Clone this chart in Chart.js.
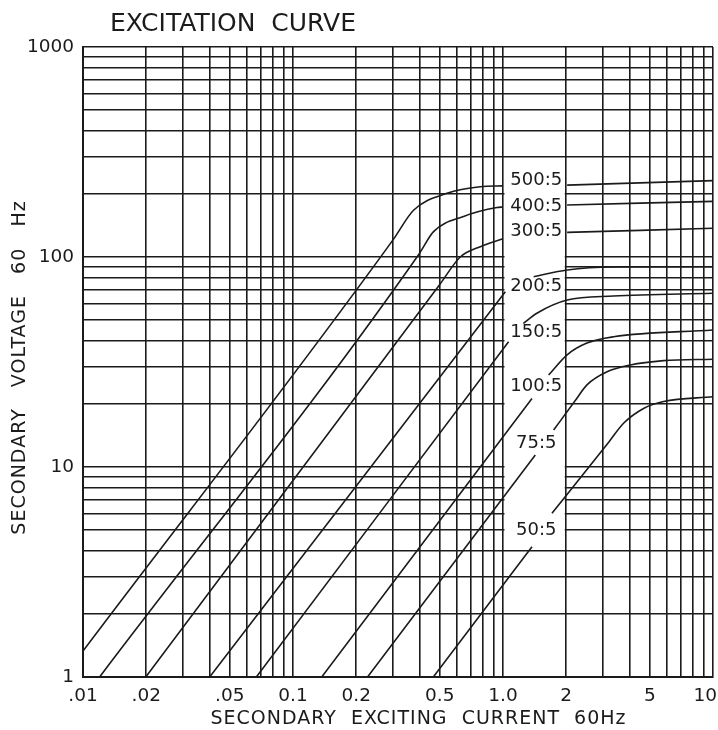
<!DOCTYPE html>
<html>
<head>
<meta charset="utf-8">
<script src="https://cdn.jsdelivr.net/npm/chart.js@4.4.1/dist/chart.umd.min.js"></script>
<style>
html,body{margin:0;padding:0;background:#fff;}
#wrap{width:718px;height:730px;position:relative;}
</style>
</head>
<body>
<div id="wrap"><canvas id="c"></canvas></div>
<script>
// ---------- data ----------
const chartTitle = 'EXCITATION  CURVE';
const xAxisTitle = 'SECONDARY  EXCITING  CURRENT  60Hz';
const yAxisTitle = 'SECONDARY   VOLTAGE   60   Hz';

const ratios = ['500:5', '400:5', '300:5', '200:5', '150:5', '100:5', '75:5', '50:5'];

// [current, voltage] points; null = break where the ratio label sits
const curve500 = [[0.01,1.33],[0.3,121],[0.375,167],[0.541,201],[0.78,216],[1.0,218],null,[2.02,220],[10,231]];
const curve400 = [[0.012,1],[0.4,104],[0.467,132],[0.649,156],[0.936,172],[1.0,173],null,[2.02,177],[10,184]];
const curve300 = [[0.0199,1],[0.5,74],[0.626,100],[0.78,112],[1.0,122],null,[2.02,131],[10,137]];
const curve200 = [[0.0401,1],[1.026,68.4],null,[1.40,80.6],[2.02,86.7],[3.36,89.6],[10,89.9]];
const curve150 = [[0.0669,1],[1.063,39.5],null,[1.25,48.3],[1.45,54],[2.02,62.4],[3.36,65.2],[10,67.2]];
const curve100 = [[0.137,1],[1.374,21.2],null,[1.649,27.4],[2.02,34.2],[2.51,38.9],[3.36,41.7],[10,44.9]];
const curve75  = [[0.2264,1],[1.425,11.4],null,[1.742,15.0],[2.2,20.6],[2.51,24.6],[3.13,28.4],[4.04,30.6],[5.82,32.1],[10,32.6]];
const curve50  = [[0.4657,1],[1.374,4.17],null,[1.711,6.02],[3.2,13.2],[3.75,16.15],[4.67,19.0],[5.82,20.5],[10,21.6]];

const labelX = [1.44, 1.44, 1.44, 1.44, 1.44, 1.44, 1.44, 1.44];
const labelY = [231, 173.6, 133, 72.2, 43.8, 24.1, 12.97, 5.01];

const xGrid = [0.01,0.02,0.03,0.04,0.05,0.06,0.07,0.08,0.09,
               0.1,0.2,0.3,0.4,0.5,0.6,0.7,0.8,0.9,
               1,2,3,4,5,6,7,8,9,10];
const yGrid = [1,2,3,4,5,6,7,8,9,
               10,20,30,40,50,60,70,80,90,
               100,200,300,400,500,600,700,800,900,1000];

const xTickValues = [0.01, 0.02, 0.05, 0.1, 0.2, 0.5, 1, 2, 5, 10];
const xTickTexts  = ['.01', '.02', '.05', '0.1', '0.2', '0.5', '1.0', '2', '5', '10'];
const yTickValues = [1, 10, 100, 1000];

// blank label strip between 1.0 and 2 (voltage range)
const gapXFrom = 1, gapXTo = 2, gapYTop = 280, gapYBottom = 4.5;

// ---------- chart ----------
const INK = '#1b1b1b';
const curves = [curve500, curve400, curve300, curve200, curve150, curve100, curve75, curve50];
const datasets = curves.map((c, i) => ({
  label: ratios[i],
  data: c.map((p, j) => p === null ? {x: c[j-1][0], y: null} : {x: p[0], y: p[1]}),
  borderColor: INK,
  borderWidth: 1.6,
  pointRadius: 0,
  fill: false,
  spanGaps: false,
  cubicInterpolationMode: 'monotone'
}));

function spacedText(ctx, text, x, y, spacing) {
  if ('letterSpacing' in ctx) {
    ctx.letterSpacing = spacing + 'px';
    ctx.fillText(text, x + spacing / 2, y);
    ctx.letterSpacing = '0px';
  } else {
    ctx.fillText(text, x, y);
  }
}

const decor = {
  id: 'decor',
  beforeDatasetsDraw(chart) {
    const {ctx, scales: {x, y}} = chart;
    const x1 = x.getPixelForValue(gapXFrom) + 1.5;
    const x2 = x.getPixelForValue(gapXTo) - 1.5;
    const y1 = y.getPixelForValue(gapYTop);
    const y2 = y.getPixelForValue(gapYBottom);
    ctx.save();
    ctx.fillStyle = '#fff';
    ctx.fillRect(x1, y1, x2 - x1, y2 - y1);
    ctx.restore();
  },
  afterDraw(chart) {
    const {ctx, scales: {x, y}, chartArea} = chart;
    ctx.save();
    ctx.fillStyle = INK;
    // ratio labels
    ctx.font = '18px "DejaVu Sans"';
    ctx.textAlign = 'center';
    ctx.textBaseline = 'middle';
    ratios.forEach((r, i) => {
      ctx.fillText(r, x.getPixelForValue(labelX[i]), y.getPixelForValue(labelY[i]));
    });
    // x tick labels
    ctx.font = '18.5px "DejaVu Sans"';
    xTickValues.forEach((v, i) => {
      const t = xTickTexts[i];
      const w = ctx.measureText(t).width;
      let cx = x.getPixelForValue(v);
      if (cx + w / 2 > chart.width - 1) cx = chart.width - 1 - w / 2;
      ctx.fillText(t, cx, chartArea.bottom + 19);
    });
    // axis titles
    ctx.font = '19px "DejaVu Sans"';
    spacedText(ctx, xAxisTitle, 418, 719, 1);
    ctx.save();
    ctx.translate(20, 368);
    ctx.rotate(-Math.PI / 2);
    spacedText(ctx, yAxisTitle, 0, 0, 1);
    ctx.restore();
    // title
    ctx.font = '25px "DejaVu Sans"';
    ctx.textAlign = 'left';
    ctx.fillText(chartTitle, 110, 24);
    ctx.restore();
  }
};

new Chart(document.getElementById('c'), {
  type: 'line',
  data: { datasets },
  plugins: [decor],
  options: {
    responsive: true,
    maintainAspectRatio: false,
    devicePixelRatio: 1,
    animation: false,
    layout: { padding: { top: 47, right: 5, left: 0, bottom: 0 } },
    plugins: { legend: { display: false }, tooltip: { enabled: false }, title: { display: false } },
    scales: {
      x: {
        type: 'logarithmic',
        min: 0.01, max: 10,
        afterBuildTicks: s => { s.ticks = xGrid.map(v => ({value: v})); },
        afterFit: s => { s.height = 53; },
        grid: { color: INK, lineWidth: 1.6, drawTicks: false },
        border: { color: INK, width: 2 },
        ticks: { display: false, autoSkip: false },
        title: { display: false }
      },
      y: {
        type: 'logarithmic',
        min: 1, max: 1000,
        afterBuildTicks: s => { s.ticks = yGrid.map(v => ({value: v})); },
        afterFit: s => { s.width = 83; },
        grid: { color: INK, lineWidth: 1.6, drawTicks: false },
        border: { color: INK, width: 2 },
        ticks: {
          autoSkip: false, padding: 9, color: INK,
          font: { family: 'DejaVu Sans', size: 18.5 },
          callback: v => yTickValues.includes(v) ? String(v) : ''
        },
        title: { display: false }
      }
    }
  }
});
</script>
</body>
</html>
